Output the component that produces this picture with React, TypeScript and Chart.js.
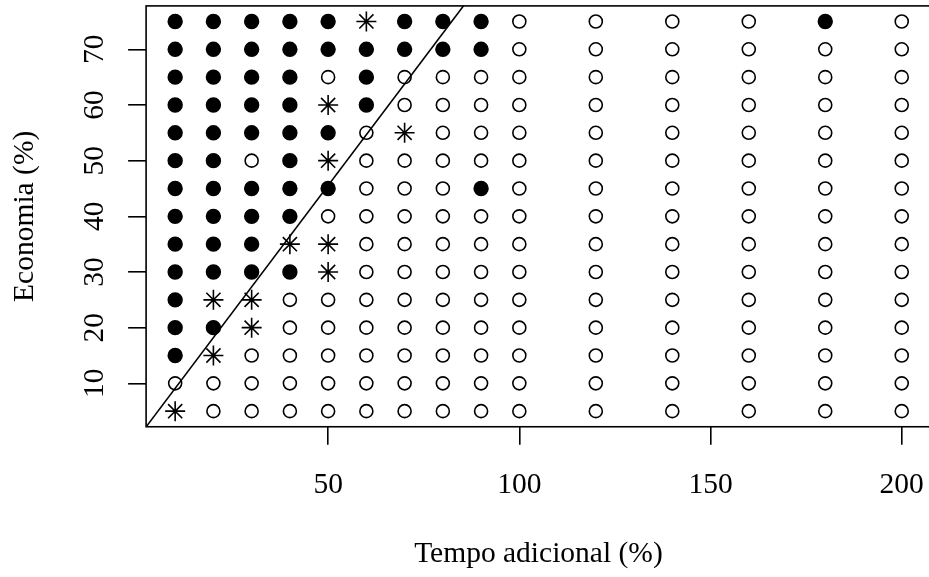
import React, { useEffect, useRef } from "react";
import { Chart, registerables } from "chart.js";

Chart.register(...registerables);

// Levels of the grid
const xLevels = [10, 20, 30, 40, 50, 60, 70, 80, 90, 100, 120, 140, 160, 180, 200];
const yLevels = [75, 70, 65, 60, 55, 50, 45, 40, 35, 30, 25, 20, 15, 10, 5];

// Outcome per cell (row = yLevels, column = xLevels): F = filled, O = open, S = asterisk
const outcomeRows = [
  "FFFFFSFFFOOOOFO", // 75
  "FFFFFFFFFOOOOOO", // 70
  "FFFFOFOOOOOOOOO", // 65
  "FFFFSFOOOOOOOOO", // 60
  "FFFFFOSOOOOOOOO", // 55
  "FFOFSOOOOOOOOOO", // 50
  "FFFFFOOOFOOOOOO", // 45
  "FFFFOOOOOOOOOOO", // 40
  "FFFSSOOOOOOOOOO", // 35
  "FFFFSOOOOOOOOOO", // 30
  "FSSOOOOOOOOOOOO", // 25
  "FFSOOOOOOOOOOOO", // 20
  "FSOOOOOOOOOOOOO", // 15
  "OOOOOOOOOOOOOOO", // 10
  "SOOOOOOOOOOOOOO", // 5
];

const xTicks = [50, 100, 150, 200];
const yTicks = [10, 20, 30, 40, 50, 60, 70];

// Reference line endpoints
const lineX = [0, 90];
const lineY = [0, 82];

const xTitle = "Tempo adicional (%)";
const yTitle = "Economia (%)";

function pointsFor(code: string) {
  const pts: { x: number; y: number }[] = [];
  outcomeRows.forEach((row, ri) => {
    row.split("").forEach((c, ci) => {
      if (c === code) pts.push({ x: xLevels[ci], y: yLevels[ri] });
    });
  });
  return pts;
}

export default function App() {
  const ref = useRef<HTMLCanvasElement>(null);

  useEffect(() => {
    document.body.style.margin = "0";
    document.body.style.overflow = "hidden";
    const FONT = '29.5px "Liberation Serif"';
    const LW = 1.6;

    const textPlugin = {
      id: "rtext",
      afterDraw(chart: any) {
        const { ctx, chartArea: a, scales } = chart;
        ctx.save();
        ctx.strokeStyle = "#000";
        ctx.lineWidth = LW;
        ctx.strokeRect(a.left, a.top, a.right - a.left, a.bottom - a.top);
        ctx.fillStyle = "#000";
        ctx.font = FONT;
        ctx.textAlign = "center";
        ctx.textBaseline = "alphabetic";
        xTicks.forEach((v) =>
          ctx.fillText(String(v), scales.x.getPixelForValue(v), a.bottom + 66.5)
        );
        ctx.fillText(xTitle, (a.left + a.right) / 2, a.bottom + 135);
        yTicks.forEach((v) => {
          ctx.save();
          ctx.translate(a.left - 42.8, scales.y.getPixelForValue(v));
          ctx.rotate(-Math.PI / 2);
          ctx.fillText(String(v), 0, 0);
          ctx.restore();
        });
        ctx.save();
        ctx.translate(a.left - 113.4, (a.top + a.bottom) / 2);
        ctx.rotate(-Math.PI / 2);
        ctx.fillText(yTitle, 0, 0);
        ctx.restore();
        ctx.restore();
      },
    };

    const chart = new Chart(ref.current as HTMLCanvasElement, {
      type: "scatter",
      data: {
        datasets: [
          {
            label: "line",
            type: "line",
            data: lineX.map((x, i) => ({ x, y: lineY[i] })),
            borderColor: "#000",
            borderWidth: LW,
            pointRadius: 0,
            showLine: true,
            fill: false,
            clip: 0,
          } as any,
          {
            label: "filled",
            data: pointsFor("F"),
            pointStyle: "circle",
            pointRadius: 6.9,
            backgroundColor: "#000",
            borderColor: "#000",
            borderWidth: LW,
          },
          {
            label: "open",
            data: pointsFor("O"),
            pointStyle: "circle",
            pointRadius: 6.5,
            backgroundColor: "rgba(0,0,0,0)",
            borderColor: "#000",
            borderWidth: LW,
          },
          {
            label: "star",
            data: pointsFor("S"),
            pointStyle: "star",
            pointRadius: 10,
            backgroundColor: "rgba(0,0,0,0)",
            borderColor: "#000",
            borderWidth: LW,
          },
        ],
      },
      options: {
        responsive: false,
        animation: false,
        devicePixelRatio: 1,
        events: [],
        layout: { autoPadding: false, padding: { top: 5.9, right: 9.2, bottom: 0, left: 0 } },
        plugins: { legend: { display: false }, tooltip: { enabled: false } },
        scales: {
          x: {
            type: "linear",
            position: "bottom",
            min: 2.4,
            max: 207.6,
            afterBuildTicks: (s: any) => {
              s.ticks = xTicks.map((v) => ({ value: v }));
            },
            afterFit: (s: any) => {
              s.height = 150.25;
            },
            grid: {
              drawOnChartArea: false,
              drawTicks: true,
              tickLength: 18,
              color: "#000",
              lineWidth: LW,
            },
            border: { display: false },
            ticks: { display: false },
          },
          y: {
            type: "linear",
            position: "left",
            min: 2.2,
            max: 77.8,
            afterBuildTicks: (s: any) => {
              s.ticks = yTicks.map((v) => ({ value: v }));
            },
            afterFit: (s: any) => {
              s.width = 146.1;
            },
            grid: {
              drawOnChartArea: false,
              drawTicks: true,
              tickLength: 18,
              color: "#000",
              lineWidth: LW,
            },
            border: { display: false },
            ticks: { display: false },
          },
        },
      },
      plugins: [textPlugin],
    });

    return () => chart.destroy();
  }, []);

  return (
    <div style={{ width: 929, height: 577, overflow: "hidden", background: "#fff" }}>
      <canvas ref={ref} width={940} height={577} style={{ display: "block" }} />
    </div>
  );
}
